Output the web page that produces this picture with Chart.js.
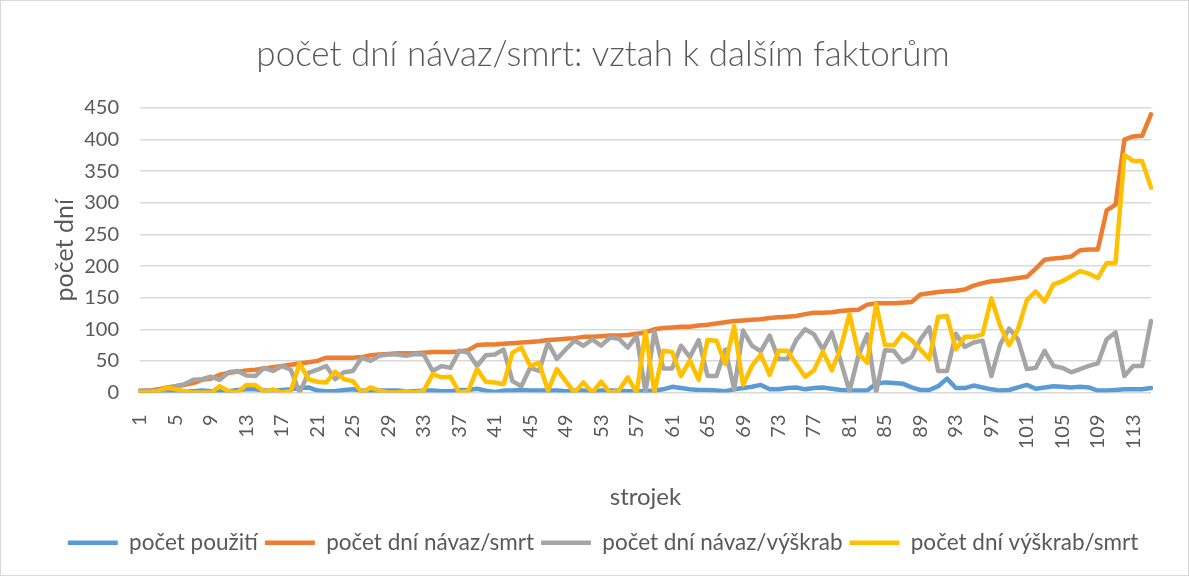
<!DOCTYPE html>
<html>
<head>
<meta charset="utf-8">
<script src="https://cdn.jsdelivr.net/npm/chart.js@4.4.1/dist/chart.umd.min.js"></script>
<style>
  html, body { margin: 0; padding: 0; background: #fff; }
  #wrap { width: 1189px; height: 576px; position: relative; }
</style>
</head>
<body>
<div id="wrap"><canvas id="strojekChart"></canvas></div>
<script>
// strojek 1..115
const strojek = [
  '1','2','3','4','5','6','7','8','9','10','11','12','13','14','15','16','17','18','19','20',
  '21','22','23','24','25','26','27','28','29','30','31','32','33','34','35','36','37','38','39','40',
  '41','42','43','44','45','46','47','48','49','50','51','52','53','54','55','56','57','58','59','60',
  '61','62','63','64','65','66','67','68','69','70','71','72','73','74','75','76','77','78','79','80',
  '81','82','83','84','85','86','87','88','89','90','91','92','93','94','95','96','97','98','99','100',
  '101','102','103','104','105','106','107','108','109','110','111','112','113','114','115'
];

const pocetPouziti = [
  0, 1, 1, 2, 3, 1, 2, 3, 2, 3,
  2, 4, 5, 5, 3, 3, 4, 5, 7, 8,
  3, 2, 2, 4, 5, 3, 2, 3, 3, 3,
  2, 2, 3, 3, 2, 2, 4, 4, 6, 3,
  1, 3, 3, 4, 3, 3, 3, 3, 2, 3,
  3, 2, 3, 3, 3, 2, 2, 2, 3, 5,
  9, 7, 5, 4, 4, 3, 2, 5, 7, 9,
  12, 5, 5, 7, 8, 5, 7, 8, 6, 4,
  3, 3, 3, 14, 16, 15, 14, 8, 4, 4,
  10, 22, 7, 7, 11, 8, 5, 3, 4, 8,
  12, 6, 8, 10, 9, 8, 9, 8, 3, 3,
  4, 5, 5, 5, 7
];

const navazSmrt = [
  2, 3, 5, 8, 10, 12, 15, 20, 22, 28,
  31, 33, 35, 36, 38, 40, 42, 44, 46, 48,
  50, 55, 55, 55, 55, 56, 59, 60, 61, 62,
  62, 62, 63, 64, 64, 64, 65, 67, 75, 76,
  76, 77, 78, 79, 80, 81, 83, 84, 85, 86,
  88, 88, 89, 90, 90, 91, 93, 95, 100, 102,
  103, 104, 104, 106, 107, 109, 111, 113, 114, 115,
  116, 118, 119, 120, 121, 124, 126, 126, 127, 129,
  130, 131, 139, 141, 141, 141, 142, 143, 155, 157,
  159, 160, 161, 163, 169, 173, 176, 177, 179, 181,
  183, 196, 210, 212, 213, 215, 225, 226, 226, 288,
  297, 400, 405, 406, 440
];

const navazVyskrab = [
  3, 3, 3, 5, 10, 13, 20, 21, 25, 20,
  32, 34, 27, 26, 39, 34, 42, 36, 0, 31,
  36, 42, 21, 32, 34, 55, 50, 58, 60, 60,
  58, 61, 60, 34, 42, 39, 66, 63, 42, 59,
  60, 68, 18, 10, 39, 34, 79, 53, 68, 82,
  74, 84, 74, 87, 85, 71, 90, 0, 97, 38,
  38, 74, 56, 83, 26, 26, 68, 5, 98, 74,
  65, 90, 53, 53, 83, 100, 92, 68, 95, 50,
  2, 58, 92, 0, 67, 66, 48, 56, 84, 103,
  34, 34, 93, 72, 79, 82, 26, 76, 101, 84,
  37, 39, 66, 42, 39, 32, 37, 42, 46, 84,
  95, 26, 42, 42, 113
];

const vyskrabSmrt = [
  0, 0, 2, 8, 5, 2, 0, 0, 0, 10,
  2, 0, 12, 12, 1, 5, 0, 2, 46, 21,
  17, 16, 33, 21, 18, 0, 8, 3, 0, 0,
  2, 0, 3, 29, 24, 25, 0, 2, 37, 17,
  16, 13, 63, 71, 42, 47, 3, 37, 18, 0,
  16, 0, 17, 0, 3, 24, 0, 96, 0, 66,
  64, 26, 51, 20, 83, 82, 45, 105, 12, 42,
  60, 28, 66, 66, 45, 25, 35, 65, 35, 70,
  124, 62, 47, 140, 75, 75, 93, 83, 68, 53,
  120, 121, 68, 88, 88, 92, 149, 105, 75, 100,
  146, 160, 144, 171, 176, 184, 192, 188, 181, 205,
  205, 376, 366, 366, 324
];

const textColor = '#595959';
const gridColor = '#d9d9d9';
Chart.defaults.font.family = 'Lato, "Open Sans", sans-serif';
Chart.defaults.color = textColor;

// white background + thin frame round the chart
const chartFrame = {
  id: 'chartFrame',
  beforeDraw(chart) {
    const {ctx, width, height} = chart;
    ctx.save();
    ctx.fillStyle = '#ffffff';
    ctx.fillRect(0, 0, width, height);
    ctx.strokeStyle = gridColor;
    ctx.lineWidth = 1;
    ctx.strokeRect(0.5, 0.5, width - 1, height - 1);
    ctx.restore();
  }
};

function line(label, data, color, order) {
  return {
    label, data, order,
    borderColor: color,
    backgroundColor: color,
    borderWidth: 4.5,
    borderJoinStyle: 'round',
    borderCapStyle: 'round',
    pointRadius: 0,
    tension: 0,
    fill: false
  };
}

new Chart(document.getElementById('strojekChart'), {
  type: 'line',
  data: {
    labels: strojek,
    datasets: [
      line('počet použití', pocetPouziti, '#5B9BD5', 3),
      line('počet dní návaz/smrt', navazSmrt, '#ED7D31', 2),
      line('počet dní návaz/výškrab', navazVyskrab, '#A5A5A5', 1),
      line('počet dní výškrab/smrt', vyskrabSmrt, '#FFC000', 0)
    ]
  },
  options: {
    responsive: true,
    maintainAspectRatio: false,
    animation: false,
    layout: { padding: { left: 40, right: 23, top: 0, bottom: 12 } },
    plugins: {
      title: {
        display: true,
        text: 'počet dní návaz/smrt: vztah k dalším faktorům',
        color: textColor,
        font: { size: 35, weight: '300' },
        padding: { top: 34, bottom: 32 }
      },
      legend: {
        position: 'bottom',
        labels: {
          usePointStyle: true,
          pointStyle: 'line',
          pointStyleWidth: 50,
          color: textColor,
          font: { size: 22.5 },
          padding: 7,
          sort: (a, b) => a.datasetIndex - b.datasetIndex
        }
      },
      tooltip: { enabled: false }
    },
    scales: {
      x: {
        offset: false,
        grid: { display: false },
        border: { display: false },
        ticks: {
          autoSkip: false,
          minRotation: 90,
          maxRotation: 90,
          padding: 14,
          font: { size: 20 },
          callback(v, i) { return i % 4 === 0 ? this.getLabelForValue(v) : ''; }
        },
        title: {
          display: true,
          text: 'strojek',
          font: { size: 24 },
          padding: { top: 0, bottom: 13 }
        },
        afterFit(s) { s.height = 132; }
      },
      y: {
        min: 0,
        max: 450,
        ticks: { stepSize: 50, padding: 21, font: { size: 20 } },
        grid: { color: gridColor, lineWidth: 1.5, drawTicks: false },
        border: { display: false },
        title: {
          display: true,
          text: 'počet dní',
          font: { size: 25 },
          padding: { top: 10, bottom: 0 }
        },
        afterFit(s) { s.width = 100; }
      }
    }
  },
  plugins: [chartFrame]
});
</script>
</body>
</html>
